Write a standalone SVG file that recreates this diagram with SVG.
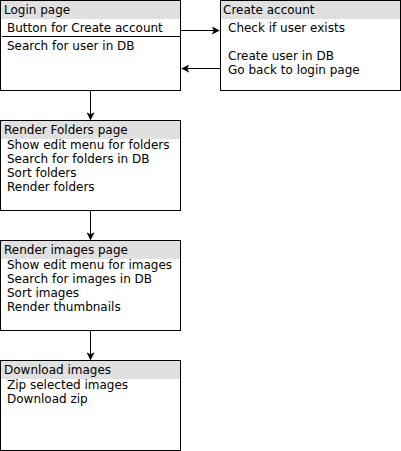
<svg xmlns="http://www.w3.org/2000/svg" width="401" height="451" viewBox="0 0 401 451">
<defs>
<marker id="arr" viewBox="0 0 10 10" refX="9" refY="5" markerWidth="8" markerHeight="8" markerUnits="userSpaceOnUse" orient="auto">
<path d="M0,0 L10,5 L0,10 L2.5,5 Z" fill="#000"/>
</marker>
</defs>
<style>
.box{fill:#fff;stroke:#000;stroke-width:1}
.hdr{fill:#e0e0e0}
text{font-family:"DejaVu Sans","Verdana",sans-serif;font-size:12px;fill:#000}
.conn{stroke:#000;stroke-width:1;fill:none}
</style>
<rect width="401" height="451" fill="#fff"/>
<g id="login">
<rect class="box" x="0.5" y="0.5" width="180" height="90"/>
<rect class="hdr" x="1" y="1" width="179" height="18"/>
<line x1="2" y1="36.5" x2="180" y2="36.5" stroke="#000"/>
<text x="4" y="14">Login page</text>
<text x="7" y="32">Button for Create account</text>
<text x="7" y="50">Search for user in DB</text>
</g>
<g id="create">
<rect class="box" x="220.5" y="0.5" width="180" height="90"/>
<rect class="hdr" x="221" y="1" width="179" height="18"/>
<text x="223" y="14">Create account</text>
<text x="228" y="32">Check if user exists</text>
<text x="228" y="60">Create user in DB</text>
<text x="228" y="74">Go back to login page</text>
</g>
<g id="folders">
<rect class="box" x="0.5" y="120.5" width="180" height="90"/>
<rect class="hdr" x="1" y="121" width="179" height="18"/>
<text x="4" y="134">Render Folders page</text>
<text x="7" y="149">Show edit menu for folders</text>
<text x="7" y="163">Search for folders in DB</text>
<text x="7" y="177">Sort folders</text>
<text x="7" y="191">Render folders</text>
</g>
<g id="images">
<rect class="box" x="0.5" y="240.5" width="180" height="90"/>
<rect class="hdr" x="1" y="241" width="179" height="18"/>
<text x="4" y="254">Render images page</text>
<text x="7" y="269">Show edit menu for images</text>
<text x="7" y="283">Search for images in DB</text>
<text x="7" y="297">Sort images</text>
<text x="7" y="311">Render thumbnails</text>
</g>
<g id="download">
<rect class="box" x="0.5" y="360.5" width="180" height="90"/>
<rect class="hdr" x="1" y="361" width="179" height="18"/>
<text x="4" y="374">Download images</text>
<text x="7" y="389">Zip selected images</text>
<text x="7" y="403">Download zip</text>
</g>
<g id="connectors">
<line class="conn" x1="180.5" y1="30.5" x2="219" y2="30.5" marker-end="url(#arr)"/>
<line class="conn" x1="220.5" y1="68.5" x2="182" y2="68.5" marker-end="url(#arr)"/>
<line class="conn" x1="90.5" y1="91" x2="90.5" y2="119.5" marker-end="url(#arr)"/>
<line class="conn" x1="90.5" y1="211" x2="90.5" y2="239.5" marker-end="url(#arr)"/>
<line class="conn" x1="90.5" y1="331" x2="90.5" y2="359.5" marker-end="url(#arr)"/>
</g>
</svg>
